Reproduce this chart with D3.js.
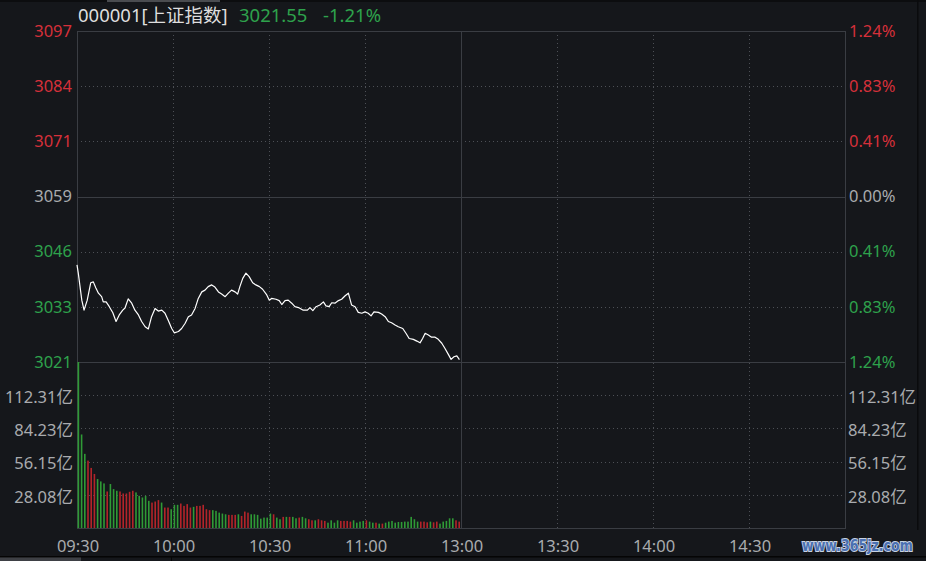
<!DOCTYPE html>
<html>
<head>
<meta charset="utf-8">
<script src="https://cdn.jsdelivr.net/npm/d3@7"></script>
<style>
  html, body { margin: 0; padding: 0; background: #15171b; }
  svg { display: block; }
</style>
</head>
<body>
<script>
// ---------------- DATA ----------------
const stockCode = "000001[上证指数]";
const lastPrice = "3021.55";
const lastChange = "-1.21%";

const priceTickLabels = ["3021", "3033", "3046", "3059", "3071", "3084", "3097"];
const pctTickLabels = ["1.24%", "0.83%", "0.41%", "0.00%", "0.41%", "0.83%", "1.24%"];
const tickSign = [-1, -1, -1, 0, 1, 1, 1];
const priceMin = 3021, priceMax = 3097;

const volTickValues = [28.08, 56.15, 84.23, 112.31];
const volTickLabels = ["28.08亿", "56.15亿", "84.23亿", "112.31亿"];
const volMax = 140.39;

const timeTickMinutes = [0, 30, 60, 90, 120, 150, 180, 210];
const timeTickLabels = ["09:30", "10:00", "10:30", "11:00", "13:00", "13:30", "14:00", "14:30"];
const totalMinutes = 240;

// minutes since 09:30 (trading minutes) and index level
const priceMinutes = [0,0.4,1.5,2.2,3.2,4.3,5.1,5.9,6.7,7.7,8.2,9.1,10.1,11.2,12.2,13.2,14.3,15,16,17.1,
  18.1,19.2,20.2,21.3,22.3,23.3,24.4,25.4,26.5,27.5,28.5,29.6,30.4,31.7,32.7,33.8,34.8,35.8,36.9,37.9,
  39,40,41,42.1,43.1,44.2,45.2,46.3,47.3,48.3,49.4,50.2,50.9,51.8,52.8,53.8,54.9,55.9,57,58,
  59.3,60.1,60.8,62.2,63.2,64,65,66,67.1,68.1,69.2,70.7,72,72.8,73.7,74.7,75.9,77,77.8,78.8,
  79.6,80.6,81.7,82.7,83.8,84.8,85.8,86.9,87.9,89,90,91,91.9,92.8,94.2,95.2,96.3,97.3,98.3,99.4,
  100.4,101.8,102.8,103.8,105.1,106.2,107.2,108,108.8,109.8,110.8,111.9,112.9,114,115,116,116.9,117.8,118.7,119.5];
const prices = [3043.3,3041.4,3035.2,3032.9,3035.2,3039.2,3039.4,3038.0,3036.8,3036.0,3034.8,3034.8,3033.7,3032.3,3030.3,3031.8,3032.9,3033.4,3035.5,3034.5,
  3032.9,3031.8,3030.3,3029.1,3028.6,3031.4,3033.3,3032.7,3032.9,3032.2,3030.6,3028.7,3027.7,3028.0,3028.7,3029.9,3031.4,3031.8,3033.3,3035.6,
  3037.1,3037.5,3038.3,3038.7,3038.2,3037.1,3036.6,3036.0,3036.8,3037.5,3037.1,3036.6,3038.3,3040.2,3041.4,3040.6,3039.2,3038.7,3038.3,3037.7,
  3036.4,3035.2,3035.6,3035.4,3035.1,3034.2,3035.1,3035.2,3034.5,3033.7,3033.5,3032.9,3032.9,3033.5,3032.8,3033.7,3034.1,3034.8,3033.9,3033.7,
  3034.6,3034.5,3035.1,3035.4,3036.2,3036.8,3034.1,3033.7,3032.4,3032.2,3032.5,3032.2,3031.6,3032.5,3032.4,3032.0,3031.4,3030.3,3030.0,3029.5,
  3029.1,3028.7,3027.6,3026.4,3026.2,3025.8,3025.4,3026.4,3027.6,3027.2,3026.7,3026.7,3026.2,3025.3,3024.1,3022.8,3021.6,3022.2,3022.4,3021.55];

// volume per minute (亿) and direction (1 = up/red, 0 = down/green)
const volumes = [150,79.1,62.7,57.0,50.8,45.7,41.4,39.4,37.7,30.9,37.2,32.9,31.5,30.9,29.2,29.2,30.6,31.5,30.1,27.2,
  25.8,27.2,23.0,21.5,22.4,23.6,21.5,17.3,17.3,15.9,19.6,19.6,20.7,18.7,20.2,17.3,17.9,18.7,18.7,19.6,
  15.9,15.1,15.1,14.5,13.0,12.2,11.6,11.1,11.1,11.1,11.6,10.2,13.9,13.0,11.6,11.6,11.1,7.9,8.8,8.8,
  12.2,11.6,8.8,7.4,9.4,9.4,9.4,9.4,8.2,8.8,9.4,8.2,7.4,6.5,6.5,7.4,6.5,6.0,4.5,6.5,
  4.5,6.5,6.0,6.0,6.0,5.4,6.5,4.5,5.4,6.0,6.5,5.4,4.5,4.5,3.7,3.7,4.5,5.4,6.0,4.5,
  5.1,5.1,5.4,5.4,9.4,7.4,5.4,5.4,5.4,4.8,5.4,4.8,5.4,3.7,5.4,6.0,8.2,8.2,6.5,5.4];
const volumeUp = [0,0,0,1,1,1,0,0,0,1,0,0,0,1,1,1,1,1,0,0,
  0,0,0,1,1,1,0,1,1,0,0,0,1,1,1,1,0,1,1,1,
  1,1,0,0,0,0,0,1,1,1,0,1,1,1,0,0,0,0,0,0,
  0,1,0,0,1,0,1,0,0,1,0,0,1,1,0,1,1,1,0,0,
  0,0,1,1,1,1,0,0,0,0,1,0,0,1,0,1,0,0,0,0,
  0,0,0,0,0,0,0,1,1,1,0,1,1,0,0,0,0,0,1,1];

// ---------------- STYLE ----------------
const W = 926, H = 561;
const bg = "#15171b";
const RED = "#d5303a", GREEN = "#2ea24c", GRAY = "#a9abae";
const BAR_RED = "#b3242a", BAR_GREEN = "#2f9a36";
const gridDot = "#4d5056", solid = "#3a3d43";
const font = "'Noto Sans','Noto Sans CJK SC',sans-serif";

const L = 77, R = 845, T = 31, PB = 362, VB = 528;

const svg = d3.select("body").append("svg").attr("width", W).attr("height", H)
  .style("background", bg);

const x = d3.scaleLinear().domain([0, totalMinutes]).range([L, R]);
const y = d3.scaleLinear().domain([priceMin, priceMax]).range([PB, T]);
const yv = d3.scaleLinear().domain([0, volMax]).range([VB, PB]).clamp(true);

// window chrome bits
svg.append("rect").attr("x", 0).attr("y", 0).attr("width", W).attr("height", 2).attr("fill", "#0c0d0f");
svg.append("rect").attr("x", 107).attr("y", 0).attr("width", 113).attr("height", 2).attr("fill", "#4a4c50");
svg.append("rect").attr("x", 917).attr("y", 0).attr("width", 1.5).attr("height", 530).attr("fill", "#0a0b0d");
svg.append("rect").attr("x", 0).attr("y", 556).attr("width", W).attr("height", 1.5).attr("fill", "#050505");
svg.append("rect").attr("x", 0).attr("y", 557.5).attr("width", 81).attr("height", 4).attr("fill", "#3e4045");
svg.append("rect").attr("x", 171).attr("y", 557).attr("width", 1).attr("height", 4).attr("fill", "#050505");

// horizontal price grid
const pStep = (priceMax - priceMin) / 6;
const priceLevels = d3.range(7).map(i => priceMin + i * pStep);
const g = svg.append("g").attr("shape-rendering", "crispEdges");
priceLevels.forEach((v, i) => {
  if (i === 0 || i === 6) return;
  g.append("line").attr("x1", L).attr("x2", R).attr("y1", Math.round(y(v)) + 0.5).attr("y2", Math.round(y(v)) + 0.5)
    .attr("stroke", i === 3 ? solid : gridDot).attr("stroke-width", 1)
    .attr("stroke-dasharray", i === 3 ? null : "1,3");
});
// volume grid
volTickValues.forEach(v => {
  g.append("line").attr("x1", L).attr("x2", R).attr("y1", Math.round(yv(v)) + 0.5).attr("y2", Math.round(yv(v)) + 0.5)
    .attr("stroke", gridDot).attr("stroke-dasharray", "1,3");
});
// vertical grid
timeTickMinutes.forEach(m => {
  if (m === 0) return;
  const xx = Math.round(x(m)) + 0.5;
  g.append("line").attr("x1", xx).attr("x2", xx).attr("y1", T).attr("y2", VB)
    .attr("stroke", m === 120 ? solid : gridDot).attr("stroke-width", m === 120 ? 1.5 : 1)
    .attr("stroke-dasharray", m === 120 ? null : "1,3");
});
// frame
g.append("rect").attr("x", L + 0.5).attr("y", T + 0.5).attr("width", R - L).attr("height", VB - T)
  .attr("fill", "none").attr("stroke", solid);
g.append("line").attr("x1", L).attr("x2", R).attr("y1", PB + 0.5).attr("y2", PB + 0.5).attr("stroke", solid);

// volume bars
svg.append("g").selectAll("rect").data(volumes).join("rect")
  .attr("x", (d, i) => x(i) + 0.6)
  .attr("y", d => yv(d))
  .attr("width", 1.6)
  .attr("height", d => VB - yv(d))
  .attr("fill", (d, i) => volumeUp[i] ? BAR_RED : BAR_GREEN);

// price line
const pts = prices.map((p, i) => [priceMinutes[i], p]);
svg.append("path").datum(pts)
  .attr("d", d3.line().x(d => x(d[0])).y(d => y(d[1])))
  .attr("fill", "none").attr("stroke", "#ffffff").attr("stroke-width", 1.2)
  .attr("stroke-linejoin", "round");

// left / right price labels
const colorFor = s => s > 0 ? RED : (s < 0 ? GREEN : GRAY);
priceLevels.forEach((v, i) => {
  svg.append("text").attr("x", 72).attr("y", y(v)).attr("dy", "0.35em")
    .attr("text-anchor", "end").attr("font-family", font).attr("font-size", 16.5)
    .attr("fill", colorFor(tickSign[i])).text(priceTickLabels[i]);
  svg.append("text").attr("x", 849).attr("y", y(v)).attr("dy", "0.35em")
    .attr("text-anchor", "start").attr("font-family", font).attr("font-size", 16.5)
    .attr("fill", colorFor(tickSign[i])).text(pctTickLabels[i]);
});
// volume labels
volTickValues.forEach((v, i) => {
  svg.append("text").attr("x", 73).attr("y", yv(v) + 2).attr("dy", "0.35em")
    .attr("text-anchor", "end").attr("font-family", font).attr("font-size", 16.5)
    .attr("fill", GRAY).text(volTickLabels[i]);
  svg.append("text").attr("x", 848).attr("y", yv(v) + 2).attr("dy", "0.35em")
    .attr("text-anchor", "start").attr("font-family", font).attr("font-size", 16.5)
    .attr("fill", GRAY).text(volTickLabels[i]);
});
// time labels
timeTickMinutes.forEach((m, i) => {
  svg.append("text").attr("x", x(m) + 1).attr("y", 546).attr("dy", "0.35em")
    .attr("text-anchor", "middle").attr("font-family", font).attr("font-size", 16.5)
    .attr("fill", GRAY).text(timeTickLabels[i]);
});

// header
svg.append("text").attr("x", 78).attr("y", 16).attr("dy", "0.35em")
  .attr("font-family", font).attr("font-size", 18.5).attr("fill", "#dedede").text(stockCode);
svg.append("text").attr("x", 239).attr("y", 16).attr("dy", "0.35em")
  .attr("font-family", font).attr("font-size", 18.5).attr("fill", GREEN).text(lastPrice);
svg.append("text").attr("x", 323).attr("y", 16).attr("dy", "0.35em")
  .attr("font-family", font).attr("font-size", 18.5).attr("fill", GREEN).text(lastChange);

// watermark (horizontally condensed via transform)
svg.append("g").attr("transform", "translate(802,546) scale(0.84,1)")
  .append("text").attr("x", 0).attr("y", 0).attr("dy", "0.35em")
  .attr("font-family", "'DejaVu Sans',sans-serif").attr("font-weight", "bold").attr("font-size", 15)
  .attr("fill", "#4a70b2").attr("stroke", "#c8d2e2").attr("stroke-width", 2)
  .attr("paint-order", "stroke").text("www.365jz.com");
</script>
</body>
</html>
